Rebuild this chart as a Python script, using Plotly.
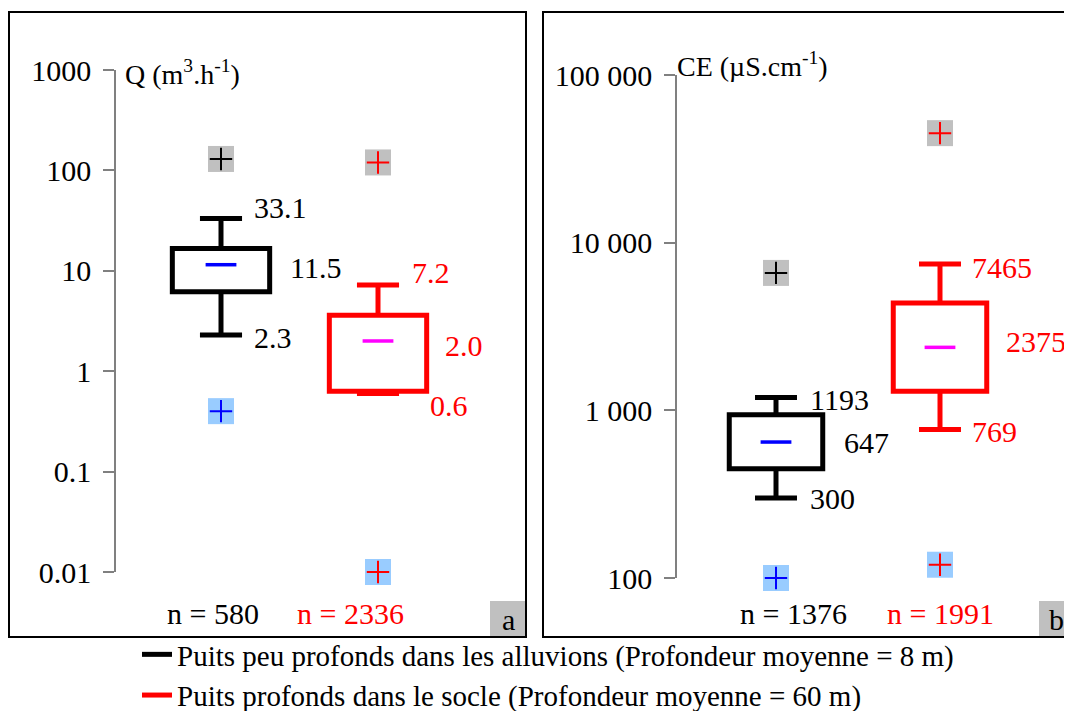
import numpy as np
import plotly.graph_objects as go

# page body has an 8px margin: figure is sized/offset so screen pixels match
OFF = 8
W, H = 1064, 703

# ---------------- data ----------------
series_names = ["Puits peu profonds dans les alluvions (Profondeur moyenne = 8 m)",
                "Puits profonds dans le socle (Profondeur moyenne = 60 m)"]
positions = [0, 1]

# Panel a : Q (m3/h)
q_lower = [2.3, 0.6]
q_q1 = [6.2, 0.63]
q_median = [11.5, 2.0]
q_q3 = [16.7, 3.6]
q_upper = [33.1, 7.2]
q_min = [0.4, 0.01]
q_max = [130, 120]
q_n = [580, 2336]

# Panel b : CE (uS/cm)
ce_lower = [300, 769]
ce_q1 = [448, 1300]
ce_median = [647, 2375]
ce_q3 = [940, 4370]
ce_upper = [1193, 7465]
ce_min = [100, 120]
ce_max = [6600, 45000]
ce_n = [1376, 1991]

q_ticks = [0.01, 0.1, 1, 10, 100, 1000]
q_ticktext = ["0.01", "0.1", "1", "10", "100", "1000"]
ce_ticks = [100, 1000, 10000, 100000]
ce_ticktext = ["100", "1 000", "10 000", "100 000"]

# ---------------- styles ----------------
FONT = "Liberation Serif"
box_colors = ["#000000", "#ff0000"]
median_colors = ["#0000ff", "#ff00ff"]
max_cross_colors = ["#000000", "#ff0000"]
min_cross_colors = ["#0000ff", "#ff0000"]
GRAY = "#c0c0c0"
LIGHTBLUE = "#99ccff"


def px(x):
    return (x - OFF) / W


def py(y):
    return 1 - (y - OFF) / H


fig = go.Figure()


def add_panel(xa, ya, lower, q1, med, q3, upper, vmin, vmax, hw, cw, fmt, offsets, show_legend):
    for i, x in enumerate(positions):
        xs = [x - hw, x + hw, x + hw, x - hw, x - hw, x + hw, None,
              x, x, None, x, x, None,
              x - cw, x + cw, None, x - cw, x + cw]
        ys = [q1[i], q1[i], q3[i], q3[i], q1[i], q1[i], None,
              q3[i], upper[i], None, q1[i], lower[i], None,
              upper[i], upper[i], None, lower[i], lower[i]]
        fig.add_trace(go.Scatter(x=xs, y=ys, mode="lines", xaxis=xa, yaxis=ya,
                                 line=dict(color=box_colors[i], width=5),
                                 name=series_names[i], showlegend=show_legend,
                                 cliponaxis=False, hoverinfo="skip"))
        # median dash
        fig.add_trace(go.Scatter(x=[x], y=[med[i]], mode="markers", xaxis=xa, yaxis=ya,
                                 marker=dict(symbol="line-ew", size=22,
                                             line=dict(color=median_colors[i], width=3.5)),
                                 showlegend=False, cliponaxis=False, hoverinfo="skip"))
        # outliers: background squares + crosses
        fig.add_trace(go.Scatter(x=[x, x], y=[vmax[i], vmin[i]], mode="markers", xaxis=xa, yaxis=ya,
                                 marker=dict(symbol="square", size=26, color=[GRAY, LIGHTBLUE],
                                             line=dict(width=0)),
                                 showlegend=False, cliponaxis=False, hoverinfo="skip"))
        fig.add_trace(go.Scatter(x=[x, x], y=[vmax[i], vmin[i]], mode="markers", xaxis=xa, yaxis=ya,
                                 marker=dict(symbol="cross-thin", size=16,
                                             line=dict(color=[max_cross_colors[i], min_cross_colors[i]],
                                                       width=2)),
                                 showlegend=False, cliponaxis=False, hoverinfo="skip"))
        # value labels
        for val, (dx, dy) in zip([upper[i], med[i], lower[i]], offsets[i]):
            fig.add_annotation(x=x, y=np.log10(val), xref=xa, yref=ya,
                               text=fmt(val), showarrow=False, xanchor="left", yanchor="middle",
                               xshift=dx, yshift=dy,
                               font=dict(family=FONT, size=30, color=box_colors[i]))


# panel a
add_panel("x", "y", q_lower, q_q1, q_median, q_q3, q_upper, q_min, q_max,
          hw=0.31, cw=0.134, fmt=lambda v: "%.1f" % v,
          offsets=[[(31, 11), (67, -3), (31, -3)], [(32, 13), (65, -5), (50, -12)]],
          show_legend=True)
# panel b
add_panel("x2", "y2", ce_lower, ce_q1, ce_median, ce_q3, ce_upper, ce_min, ce_max,
          hw=0.285, cw=0.128, fmt=lambda v: "%d" % v,
          offsets=[[(32, -2), (66, 0), (32, 0)], [(30, -4), (64, 6), (30, -2)]],
          show_legend=False)

# axis geometry (screen pixels)
ax_a_left, ax_a_right, a_c0, a_c1 = 116, 520, 221, 378
ax_b_left, b_c0, b_c1 = 677, 776, 940
sa = a_c1 - a_c0
sb = b_c1 - b_c0

yaxis_common = dict(type="log", showgrid=False, zeroline=False, showline=True,
                    linecolor="#808080", linewidth=1.5, ticks="outside", ticklen=11,
                    tickcolor="#808080", tickwidth=1.5, automargin=False,
                    tickfont=dict(family=FONT, size=30, color="black"),
                    ticklabelstandoff=6)

fig.update_layout(
    width=W, height=H, margin=dict(l=0, r=0, t=0, b=0, autoexpand=False),
    paper_bgcolor="white", plot_bgcolor="rgba(0,0,0,0)",
    xaxis=dict(domain=[px(ax_a_left), px(ax_a_right)],
               range=[(ax_a_left - a_c0) / sa, (ax_a_right - a_c0) / sa], visible=False,
               automargin=False),
    yaxis=dict(domain=[py(572), py(70)], range=[-2, 3], anchor="x",
               tickvals=q_ticks, ticktext=q_ticktext, **yaxis_common),
    xaxis2=dict(domain=[px(ax_b_left), 1.0],
                range=[(ax_b_left - b_c0) / sb, (W + OFF - b_c0) / sb],
                visible=False, anchor="y2", automargin=False),
    yaxis2=dict(domain=[py(578), py(75)], range=[2, 5], anchor="x2",
                tickvals=ce_ticks, ticktext=ce_ticktext, **yaxis_common),
    legend=dict(x=px(137), y=py(629), xanchor="left", yanchor="top",
                xref="container", yref="container",
                font=dict(family=FONT, size=29, color="black"),
                bgcolor="rgba(0,0,0,0)", tracegroupgap=0, itemwidth=30),
    showlegend=True,
)

# panel frames
fig.add_shape(type="rect", xref="paper", yref="paper", x0=px(9), x1=px(526), y0=py(637), y1=py(12),
              line=dict(color="black", width=2), layer="below")
fig.add_shape(type="rect", xref="paper", yref="paper", x0=px(543), x1=px(1090), y0=py(637), y1=py(12),
              line=dict(color="black", width=2), layer="below")
# corner letter boxes
fig.add_shape(type="rect", xref="paper", yref="paper", x0=px(490), x1=px(525), y0=py(636), y1=py(601),
              fillcolor=GRAY, line=dict(width=0), layer="below")
fig.add_shape(type="rect", xref="paper", yref="paper", x0=px(1039), x1=px(1075), y0=py(636), y1=py(601),
              fillcolor=GRAY, line=dict(width=0), layer="below")
fig.add_annotation(x=px(508), y=py(619), xref="paper", yref="paper", text="a", showarrow=False,
                   xanchor="center", yanchor="middle",
                   font=dict(family=FONT, size=30, color="black"))
fig.add_annotation(x=px(1056), y=py(619), xref="paper", yref="paper", text="b", showarrow=False,
                   xanchor="center", yanchor="middle",
                   font=dict(family=FONT, size=30, color="black"))

# axis titles
fig.add_annotation(x=px(123), y=py(72), xref="paper", yref="paper", xanchor="left", yanchor="middle",
                   text="Q (m<sup>3</sup>.h<sup>-1</sup>)", showarrow=False,
                   font=dict(family=FONT, size=28, color="black"))
fig.add_annotation(x=px(675), y=py(64), xref="paper", yref="paper", xanchor="left", yanchor="middle",
                   text="CE (µS.cm<sup>-1</sup>)", showarrow=False,
                   font=dict(family=FONT, size=28, color="black"))

# n labels
n_centers = [(213, 350), (793, 940)]
for ns, centers in zip([q_n, ce_n], n_centers):
    for i, n in enumerate(ns):
        fig.add_annotation(x=px(centers[i]), y=py(613), xref="paper", yref="paper",
                           xanchor="center", yanchor="middle",
                           text="n = %d" % n, showarrow=False,
                           font=dict(family=FONT, size=30, color=box_colors[i]))

fig.write_html("out.html")
